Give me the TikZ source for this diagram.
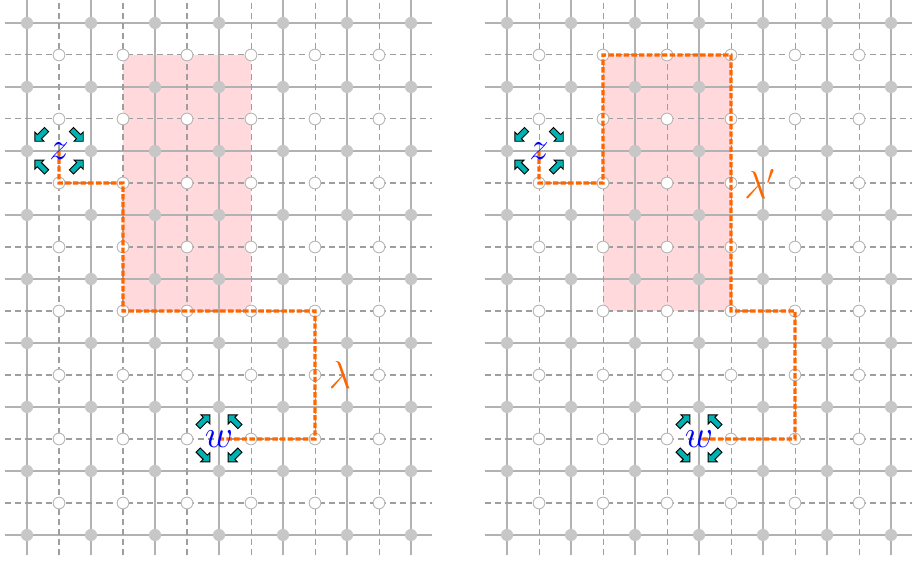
\documentclass[tikz,border=0pt]{standalone}
\usetikzlibrary{shapes.arrows}
\definecolor{walkorange}{RGB}{255,102,0}
\definecolor{flipcyan}{RGB}{0,178,178}
\definecolor{regionpink}{RGB}{255,217,219}
\tikzset{
  bond/.style={draw=black!30, line width=0.9pt},
  dualbond/.style={draw=black!38, line width=0.45pt, dash pattern=on 2.7pt off 1.8pt},
  site/.style={fill=black!22},
  dualsite/.style={draw=black!28, fill=white, line width=0.4pt},
  walk/.style={draw=walkorange, line width=1.5pt, dash pattern=on 2.4pt off 1pt},
  region/.style={fill=regionpink},
  endpt/.style={text=blue, font=\LARGE, inner sep=0pt},
  pathname/.style={text=walkorange, font=\LARGE, inner sep=0pt},
  flip/.style={single arrow, draw=black, fill=flipcyan, line width=0.4pt, inner sep=1.1pt,
    single arrow head extend=1.6pt, minimum height=0.26cm}
}

\begin{document}
\begin{tikzpicture}
  \useasboundingbox (-0.4219,-0.4375) rectangle (13.9063,8.3594);
  % two copies of the lattice
  \foreach \ox/\s in {0/L,7.5/R} {
    \fill[region] (\ox+1.5,3.5) rectangle (\ox+3.5,7.5);
    \foreach \i in {0,...,6}
      \draw[bond] (\ox+\i,-0.32) -- (\ox+\i,8.36);
    \foreach \j in {0,...,8}
      \draw[bond] (\ox-0.34,\j) -- (\ox+6.33,\j);
    \foreach \i in {0,...,5}
      \draw[dualbond] (\ox+\i+0.5,-0.32) -- (\ox+\i+0.5,8.36);
    \foreach \j in {0,...,7}
      \draw[dualbond] (\ox-0.34,\j+0.5) -- (\ox+6.33,\j+0.5);
    \foreach \i in {0,...,6}
      \foreach \j in {0,...,8}
        \fill[site] (\ox+\i,\j) circle (2.7pt);
    \foreach \i in {0,...,5}
      \foreach \j in {0,...,7}
        \filldraw[dualsite] (\ox+\i+0.5,\j+0.5) circle (2.6pt);
    \coordinate (z\s) at (\ox+0.5,6);
    \coordinate (w\s) at (\ox+3,1.5);
  }

  % the two paths
  \draw[walk] (zL) -- ++(0,-0.5) -- ++(1,0) -- ++(0,-2) -- ++(3,0) -- ++(0,-2) -- (wL);
  \draw[walk] (zR) -- ++(0,-0.5) -- ++(1,0) -- ++(0,2) -- ++(2,0) -- ++(0,-4)
    -- ++(1,0) -- ++(0,-2) -- (wR);
  \node[pathname] (lam) at (4.89,2.5) {$\lambda$};
  \node[pathname] (lamprime) at (11.45,5.48) {$\lambda'$};

  % end points with their flips
  \foreach \s in {L,R} {
    \node[endpt] (zlabel\s) at (z\s) {$z$};
    \node[endpt] (wlabel\s) at (w\s) {$w$};
    \node[flip, rotate=-135] (zf1\s) at ([shift={(-0.27,0.26)}]z\s) {};
    \node[flip, rotate=-45] (zf2\s) at ([shift={(0.27,0.26)}]z\s) {};
    \node[flip, rotate=135] (zf3\s) at ([shift={(-0.27,-0.25)}]z\s) {};
    \node[flip, rotate=45] (zf4\s) at ([shift={(0.27,-0.25)}]z\s) {};
    \node[flip, rotate=45] (wf1\s) at ([shift={(-0.25,0.27)}]w\s) {};
    \node[flip, rotate=135] (wf2\s) at ([shift={(0.25,0.27)}]w\s) {};
    \node[flip, rotate=-45] (wf3\s) at ([shift={(-0.25,-0.25)}]w\s) {};
    \node[flip, rotate=-135] (wf4\s) at ([shift={(0.25,-0.25)}]w\s) {};
  }
\end{tikzpicture}
\end{document}
